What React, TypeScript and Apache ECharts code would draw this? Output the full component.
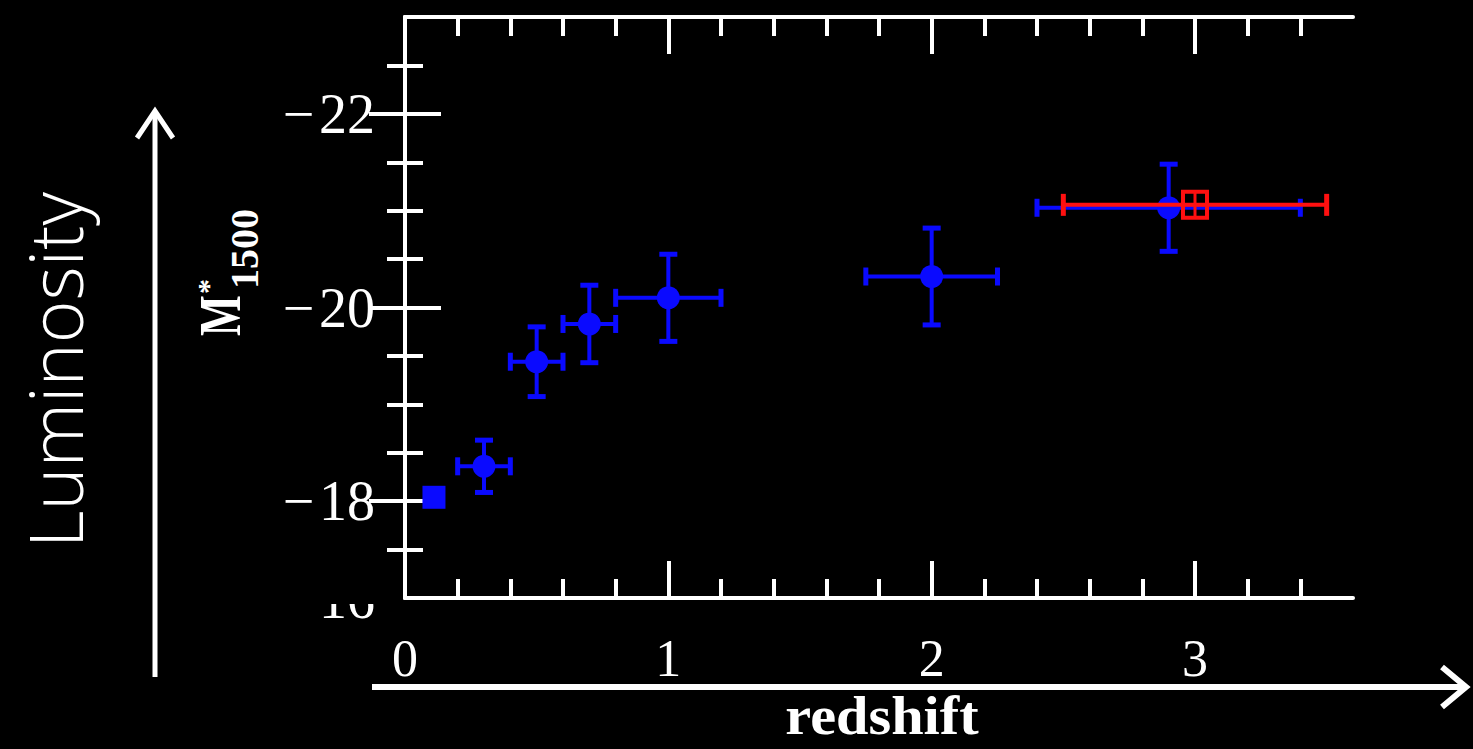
import React, { useEffect, useRef } from "react";
import * as echarts from "echarts";

// ---- data ----
const blueZ = [0.11, 0.3, 0.5, 0.7, 1.0, 2.0, 2.9];
const blueM = [-18.04, -18.36, -19.44, -19.83, -20.1, -20.32, -21.03];
const blueZErr = [0, 0.1, 0.1, 0.1, 0.2, 0.25, 0.5];
const blueMErr = [0, 0.27, 0.36, 0.4, 0.45, 0.5, 0.45];

const redZ = [3.0];
const redM = [-21.06];
const redZErr = [0.5];
const redMErr = [0];

const xMajorTicks = [0, 1, 2, 3];
const xMinorTicks = [0.2, 0.4, 0.6, 0.8, 1.2, 1.4, 1.6, 1.8, 2.2, 2.4, 2.6, 2.8, 3.2, 3.4];
const yMajorTicks = [-22, -20, -18];
const yMinorTicks = [-22.5, -21.5, -21, -20.5, -19.5, -19, -18.5, -17.5];

const X_MIN = 0, X_MAX = 3.6, Y_MIN = -23, Y_MAX = -17;

const WHITE = "#ffffff";
const BLUE = "#0a0aff";
const RED = "#ff1010";
const SERIF = "'Liberation Serif', 'DejaVu Serif', serif";

function errorBars(color: string, capLen: number, lw: number) {
  return (params: any, api: any) => {
    const x = api.value(0), y = api.value(1), ex = api.value(2), ey = api.value(3);
    const children: any[] = [];
    const style = { stroke: color, lineWidth: lw, lineCap: "butt" };
    const capStyle = { stroke: color, lineWidth: lw + 1 };
    if (ex > 0) {
      const l = api.coord([x - ex, y]);
      const r = api.coord([x + ex, y]);
      children.push({ type: "line", shape: { x1: l[0], y1: l[1], x2: r[0], y2: r[1] }, style });
      children.push({ type: "line", shape: { x1: l[0], y1: l[1] - capLen / 2, x2: l[0], y2: l[1] + capLen / 2 }, style: capStyle });
      children.push({ type: "line", shape: { x1: r[0], y1: r[1] - capLen / 2, x2: r[0], y2: r[1] + capLen / 2 }, style: capStyle });
    }
    if (ey > 0) {
      const t = api.coord([x, y - ey]);
      const b = api.coord([x, y + ey]);
      children.push({ type: "line", shape: { x1: t[0], y1: t[1], x2: b[0], y2: b[1] }, style });
      children.push({ type: "line", shape: { x1: t[0] - capLen / 2, y1: t[1], x2: t[0] + capLen / 2, y2: t[1] }, style: capStyle });
      children.push({ type: "line", shape: { x1: b[0] - capLen / 2, y1: b[1], x2: b[0] + capLen / 2, y2: b[1] }, style: capStyle });
    }
    return { type: "group", children };
  };
}

function redMarker(params: any, api: any) {
  const c = api.coord([api.value(0), api.value(1)]);
  const s = 12;
  const style = { stroke: RED, lineWidth: 3, fill: "none" };
  return {
    type: "group",
    children: [
      { type: "rect", shape: { x: c[0] - s, y: c[1] - s - 1, width: 2 * s, height: 2 * s + 2 }, style: { stroke: RED, lineWidth: 4, fill: "rgba(0,0,0,0)" } },
      { type: "line", shape: { x1: c[0], y1: c[1] - s, x2: c[0], y2: c[1] + s }, style },
      { type: "line", shape: { x1: c[0] - s, y1: c[1], x2: c[0] + s, y2: c[1] }, style },
    ],
  };
}

function xAxis(position: string, ticks: number[], len: number, showLine: boolean, labels: boolean) {
  return {
    type: "value",
    position,
    min: X_MIN,
    max: X_MAX,
    splitLine: { show: false },
    axisLine: { show: showLine, lineStyle: { color: WHITE, width: 4 } },
    axisTick: { show: true, inside: true, length: len, customValues: ticks, lineStyle: { color: WHITE, width: 4 } },
    axisLabel: labels
      ? { show: true, customValues: ticks, color: WHITE, fontFamily: SERIF, fontSize: 52, margin: 34, formatter: (v: number) => String(v) }
      : { show: false },
  };
}

function yAxis(position: string, ticks: number[], len: number, showLine: boolean, labels: boolean) {
  return {
    type: "value",
    position,
    min: Y_MIN,
    max: Y_MAX,
    inverse: true,
    splitLine: { show: false },
    axisLine: { show: showLine, lineStyle: { color: WHITE, width: 4 } },
    axisTick: { show: true, inside: true, length: len, customValues: ticks, lineStyle: { color: WHITE, width: 4 } },
    axisLabel: labels
      ? {
          show: true,
          customValues: ticks,
          color: WHITE,
          fontFamily: SERIF,
          fontSize: 56,
          margin: 30,
          formatter: (v: number) => "\u2212\u200A" + String(Math.abs(v)),
        }
      : { show: false },
  };
}

export default function App() {
  const ref = useRef<HTMLDivElement>(null);

  useEffect(() => {
    document.body.style.margin = "0";
    document.body.style.background = "#000";
    const chart = echarts.init(ref.current!, null, { renderer: "svg" });

    const blueData = blueZ.map((z, i) => [z, blueM[i], blueZErr[i], blueMErr[i]]);
    const redData = redZ.map((z, i) => [z, redM[i], redZErr[i], redMErr[i]]);

    const option: any = {
      animation: false,
      backgroundColor: "#000000",
      grid: { left: 405, top: 17, width: 948, height: 581, containLabel: false },
      xAxis: [
        xAxis("bottom", xMajorTicks, 37, true, true),
        xAxis("bottom", xMinorTicks, 19, false, false),
        xAxis("top", xMajorTicks, 37, true, false),
        xAxis("top", xMinorTicks, 19, false, false),
      ],
      yAxis: [
        yAxis("left", yMajorTicks, 36, true, true),
        yAxis("left", yMinorTicks, 18, false, false),
        yAxis("right", yMajorTicks, 36, true, false),
        yAxis("right", yMinorTicks, 18, false, false),
      ],
      series: [
        {
          type: "custom",
          name: "blue-err",
          xAxisIndex: 0,
          yAxisIndex: 0,
          renderItem: errorBars(BLUE, 18, 4),
          encode: { x: 0, y: 1 },
          data: blueData,
          z: 2,
        },
        {
          type: "scatter",
          name: "blue",
          xAxisIndex: 0,
          yAxisIndex: 0,
          symbol: (_v: any, p: any) => (p.dataIndex === 0 ? "rect" : "circle"),
          symbolSize: 23,
          itemStyle: { color: BLUE, opacity: 1 },
          data: blueData.map((d) => [d[0], d[1]]),
          z: 3,
        },
        {
          type: "custom",
          name: "red-err",
          xAxisIndex: 0,
          yAxisIndex: 0,
          renderItem: errorBars(RED, 22, 4),
          encode: { x: 0, y: 1 },
          data: redData,
          z: 4,
        },
        {
          type: "custom",
          name: "red",
          xAxisIndex: 0,
          yAxisIndex: 0,
          renderItem: redMarker,
          encode: { x: 0, y: 1 },
          data: redData.map((d) => [d[0], d[1]]),
          z: 5,
        },
      ],
      graphic: [
        // partially hidden label below the frame
        {
          type: "text",
          x: 375,
          y: 599,
          z: 1,
          style: { text: "16", fill: WHITE, font: `56px ${SERIF}`, textAlign: "right", textVerticalAlign: "middle" },
        },
        { type: "rect", z: 2, shape: { x: 300, y: 560, width: 96, height: 44 }, style: { fill: "#000" } },
        // Luminosity
        {
          type: "text",
          x: 54,
          y: 370,
          rotation: Math.PI / 2,
          style: {
            text: "Luminosity",
            fill: WHITE,
            font: `300 73px 'Open Sans', 'Noto Sans', sans-serif`,
            textAlign: "center",
            textVerticalAlign: "middle",
          },
        },
        // vertical arrow
        { type: "line", shape: { x1: 155, y1: 677, x2: 155, y2: 112 }, style: { stroke: WHITE, lineWidth: 5 } },
        {
          type: "polyline",
          shape: { points: [[137, 138], [155, 111], [173, 138]] },
          style: { stroke: WHITE, lineWidth: 5, fill: "none", lineJoin: "miter" },
        },
        // horizontal arrow
        { type: "line", shape: { x1: 372, y1: 687, x2: 1463, y2: 687 }, style: { stroke: WHITE, lineWidth: 6 } },
        {
          type: "polyline",
          shape: { points: [[1442, 667], [1466, 687], [1442, 707]] },
          style: { stroke: WHITE, lineWidth: 6, fill: "none", lineJoin: "miter" },
        },
        // redshift
        {
          type: "text",
          x: 882,
          y: 716,
          scaleX: 1.08,
          style: { text: "redshift", fill: WHITE, font: `bold 54px ${SERIF}`, textAlign: "center", textVerticalAlign: "middle" },
        },
        // M*_1500 label (rotated)
        {
          type: "group",
          x: 240,
          y: 336,
          rotation: Math.PI / 2,
          children: [
            {
              type: "text",
              x: 0,
              y: -21,
              scaleX: 0.72,
              style: { text: "M", fill: WHITE, font: `bold 60px ${SERIF}`, textAlign: "left", textVerticalAlign: "middle" },
            },
            {
              type: "text",
              x: 42,
              y: -33,
              style: { text: "*", fill: WHITE, font: `bold 30px ${SERIF}`, textAlign: "left", textVerticalAlign: "middle" },
            },
            {
              type: "text",
              x: 47,
              y: 4,
              style: { text: "1500", fill: WHITE, font: `bold 40px ${SERIF}`, textAlign: "left", textVerticalAlign: "middle" },
            },
          ],
        },
      ],
    };

    chart.setOption(option);
    return () => chart.dispose();
  }, []);

  return <div ref={ref} style={{ width: 1473, height: 749 }} />;
}
